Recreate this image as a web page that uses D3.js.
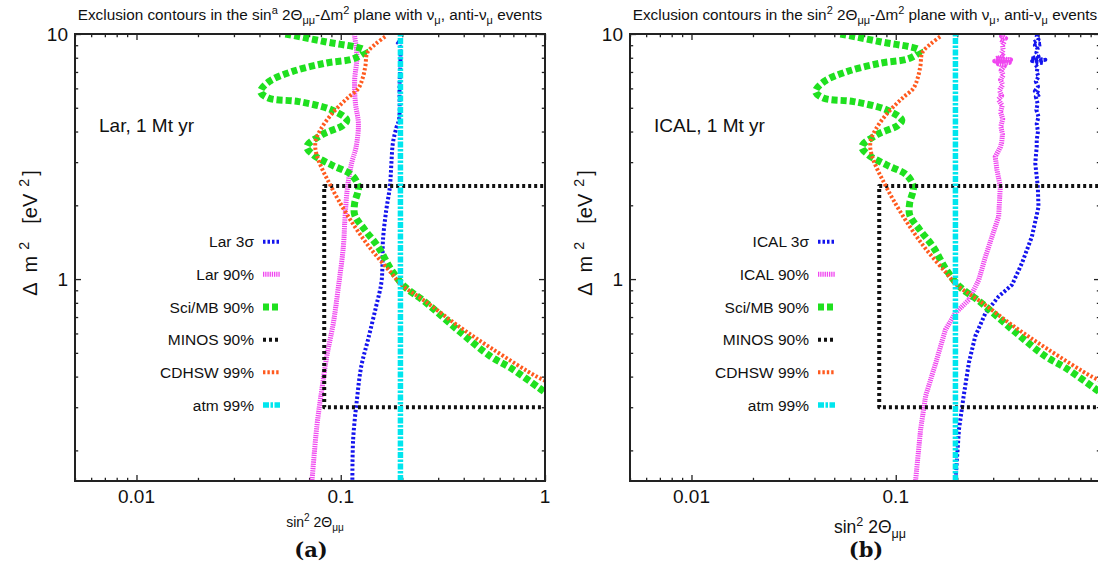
<!DOCTYPE html>
<html><head><meta charset="utf-8">
<script src="https://cdn.jsdelivr.net/npm/d3@7"></script>
<style>
html,body{margin:0;padding:0;background:#fff;overflow:hidden}
svg{display:block}
text{font-family:"Liberation Sans",Arial,Helvetica,sans-serif;fill:#111}
</style></head><body>
<svg id="chart" width="1098" height="569"></svg>
<script>
// ---------- data ----------
const xMajorTicks = [0.01, 0.1, 1];
const xTickLabels = ["0.01", "0.1", "1"];
const yMajorTicks = [1, 10];
const yTickLabels = ["1", "10"];
const xDomain = [0.005, 1];
const yDomain = [0.15, 10];

// shared contours [sin^2 2theta, dm^2]
const sciMB90 = [[0.0536,10],[0.0838,9.3],[0.131,8.55],[0.117,7.96],[0.0838,7.6],[0.0577,7.02],[0.0445,6.39],[0.0405,5.82],[0.0445,5.47],[0.0622,5.30],[0.0903,4.9],[0.107,4.46],[0.103,4.25],[0.0808,3.88],[0.0682,3.47],[0.0736,3.21],[0.0903,2.92],[0.113,2.66],[0.122,2.38],[0.117,2.04],[0.117,1.83],[0.131,1.59],[0.152,1.358],[0.177,1.09],[0.206,0.93],[0.257,0.811],[0.373,0.621],[0.543,0.483],[0.679,0.434],[0.933,0.36],[1.0,0.345]];
const minos90 = [[1.2,2.4],[0.083,2.4],[0.083,0.3],[1.2,0.3]];
const cdhsw99 = [[0.165,9.75],[0.148,9.1],[0.135,8.4],[0.132,7.4],[0.128,6.6],[0.122,6.0],[0.11,5.55],[0.101,5.2],[0.089,4.65],[0.08,4.1],[0.0757,3.72],[0.075,3.45],[0.0768,3.15],[0.0805,2.85],[0.086,2.55],[0.0974,2.10],[0.117,1.64],[0.1415,1.316],[0.177,1.058],[0.198,0.95],[0.26,0.81],[0.38,0.64],[0.55,0.52],[0.91,0.40],[1.0,0.385]];
const atm99 = [[0.196,0.15],[0.196,10]];

// Lar (panel a)
const lar3s = [[0.188,9.3],[0.194,9.0],[0.194,6.0],[0.193,4.5],[0.187,4.13],[0.180,3.59],[0.177,2.97],[0.174,2.38],[0.167,1.91],[0.161,1.447],[0.160,1.13],[0.158,0.963],[0.149,0.774],[0.136,0.566],[0.126,0.44],[0.120,0.322],[0.115,0.222],[0.114,0.15]];
const lar90 = [[0.1165,10],[0.120,8.08],[0.117,6.49],[0.118,5.22],[0.122,4.32],[0.119,3.47],[0.113,2.97],[0.108,2.38],[0.105,1.8],[0.103,1.358],[0.0974,0.93],[0.092,0.662],[0.0854,0.483],[0.0808,0.354],[0.0764,0.251],[0.0723,0.15]];

// ICAL (panel b)
const ical3s = [[0.496,10],[0.49,9.8],[0.5,9.5],[0.47,9.2],[0.52,9.1],[0.48,9.0],[0.495,8.7],[0.488,8.4],[0.50,8.1],[0.46,7.95],[0.54,7.85],[0.465,7.75],[0.53,7.65],[0.48,7.55],[0.495,7.3],[0.49,7.0],[0.5,6.7],[0.485,6.4],[0.497,6.1],[0.48,5.85],[0.51,5.7],[0.485,5.55],[0.495,5.2],[0.488,4.9],[0.5,4.6],[0.49,4.3],[0.497,4.0],[0.49,3.7],[0.49,3.47],[0.482,2.97],[0.496,2.38],[0.5,1.97],[0.464,1.49],[0.415,1.162],[0.371,0.948],[0.319,0.849],[0.275,0.727],[0.245,0.584],[0.228,0.455],[0.215,0.333],[0.204,0.244],[0.196,0.15]];
const ical90 = [[0.337,10],[0.33,9.8],[0.345,9.6],[0.325,9.5],[0.34,9.3],[0.333,9.0],[0.336,8.6],[0.328,8.3],[0.34,8.1],[0.31,7.95],[0.365,7.85],[0.305,7.75],[0.36,7.65],[0.318,7.55],[0.34,7.4],[0.328,7.1],[0.336,6.8],[0.326,6.5],[0.334,6.2],[0.322,5.9],[0.33,5.6],[0.318,5.4],[0.332,5.1],[0.326,4.8],[0.334,4.5],[0.327,4.2],[0.333,3.9],[0.33,3.6],[0.325,3.45],[0.307,3.16],[0.313,2.79],[0.325,2.38],[0.319,1.8],[0.296,1.49],[0.275,1.236],[0.255,0.993],[0.228,0.823],[0.196,0.727],[0.175,0.621],[0.157,0.455],[0.140,0.333],[0.1324,0.244],[0.125,0.15]];

const panelA = {left:75, tag:"(a)", note:"Lar, 1 Mt yr", sup:"a", xlabFont:14, xlabY:527, showLast:true,
  series:[{name:"Lar 3σ", data:lar3s, smooth:true},{name:"Lar 90%", data:lar90, smooth:true}]};
const panelB = {left:630, tag:"(b)", note:"ICAL, 1 Mt yr", sup:"2", xlabFont:17.5, xlabY:533, showLast:false,
  series:[{name:"ICAL 3σ", data:ical3s, smooth:false},{name:"ICAL 90%", data:ical90, smooth:false}]};

const styles = {
  blue:{stroke:"#1414ee", w:4, dash:"2.5 2"},
  mag:{stroke:"#f046f0", w:5, dash:"1.3 0.9"},
  green:{stroke:"#1fe01f", w:7, dash:"6 3"},
  black:{stroke:"#111111", w:4, dash:"3 3"},
  orange:{stroke:"#ff5a1e", w:4, dash:"2.4 2"},
  cyan:{stroke:"#00e6ee", w:5.5, dash:"6 1.5 2.5 1.5"}
};

const svg = d3.select("#chart");
svg.append("rect").attr("width",1098).attr("height",569).attr("fill","#fff");

function richText(g, x, y, size, parts, anchor, transform){
  const t = g.append("text").attr("x",x).attr("y",y).attr("font-size",size)
    .attr("text-anchor",anchor||"start");
  if(transform) t.attr("transform",transform);
  let shift = 0;
  parts.forEach(p=>{
    const sp = t.append("tspan").text(p.t);
    let target = 0;
    if(p.sup){ target = -0.42*size; sp.attr("font-size", size*0.72); }
    else if(p.sub){ target = 0.28*size; sp.attr("font-size", size*0.72); }
    sp.attr("dy", target-shift);
    if(p.dx) sp.attr("dx", p.dx);
    shift = target;
  });
  return t;
}

function drawPanel(P, idx){
  const x = d3.scaleLog().domain(xDomain).range([P.left, P.left+470]);
  const y = d3.scaleLog().domain(yDomain).range([481, 34]);
  const g = svg.append("g");
  const cid = "clip"+idx;
  g.append("clipPath").attr("id",cid).append("rect")
    .attr("x",P.left).attr("y",34).attr("width",470).attr("height",447);

  // title
  richText(g, P.left+235, 20, 15.3, [
    {t:"Exclusion contours in the sin"},{t:P.sup,sup:true},{t:" 2Θ"},{t:"μμ",sub:true},
    {t:"-Δm"},{t:"2",sup:true},{t:" plane with ν"},{t:"μ",sub:true},{t:", anti-ν"},{t:"μ",sub:true},{t:" events"}
  ], "middle");

  // ticks
  const minorX = [], minorY = [];
  [0.001,0.01,0.1].forEach(d=>{ for(let k=2;k<=9;k++){ const v=d*k; if(v>=xDomain[0]&&v<=xDomain[1]) minorX.push(v);} });
  [0.1,1].forEach(d=>{ for(let k=2;k<=9;k++){ const v=d*k; if(v>=yDomain[0]&&v<=yDomain[1]) minorY.push(v);} });

  const axG = g.append("g");
  const mk = (axis, tr)=>{ const a=axG.append("g").attr("transform",tr).call(axis); a.select(".domain").remove();
    a.selectAll("line").attr("stroke","#222").attr("stroke-width",1.3); a.selectAll("text").remove(); return a; };
  mk(d3.axisBottom(x).tickValues(xMajorTicks).tickSize(-6), "translate(0,481)");
  mk(d3.axisBottom(x).tickValues(minorX).tickSize(-3.2), "translate(0,481)");
  mk(d3.axisTop(x).tickValues(xMajorTicks).tickSize(-6), "translate(0,34)");
  mk(d3.axisTop(x).tickValues(minorX).tickSize(-3.2), "translate(0,34)");
  mk(d3.axisLeft(y).tickValues(yMajorTicks).tickSize(-6), `translate(${P.left},0)`);
  mk(d3.axisLeft(y).tickValues(minorY).tickSize(-3.2), `translate(${P.left},0)`);
  mk(d3.axisRight(y).tickValues(yMajorTicks).tickSize(-6), `translate(${P.left+470},0)`);
  mk(d3.axisRight(y).tickValues(minorY).tickSize(-3.2), `translate(${P.left+470},0)`);

  // tick labels
  xMajorTicks.forEach((v,i)=>{
    if(i===xMajorTicks.length-1 && !P.showLast) return;
    g.append("text").attr("x",x(v)).attr("y",503).attr("font-size",19).attr("text-anchor","middle").text(xTickLabels[i]);
  });
  yMajorTicks.forEach((v,i)=>{
    g.append("text").attr("x",P.left-7).attr("y",y(v)+7).attr("font-size",19).attr("text-anchor","end").text(yTickLabels[i]);
  });

  // axis labels
  richText(g, P.left+240, P.xlabY, P.xlabFont, [{t:"sin"},{t:"2",sup:true},{t:" 2Θ"},{t:"μμ",sub:true}], "middle");
  richText(g, 0, 0, 20, [{t:"Δ"},{t:"m",dx:10},{t:"2",sup:true,dx:6},{t:"[eV",dx:18},{t:"2",sup:true,dx:7},{t:"]",dx:3}], "middle",
    `translate(${P.left-38},233) rotate(-90)`);

  // note and tag
  g.append("text").attr("x",P.left+24).attr("y",132).attr("font-size",19).text(P.note);
  g.append("text").attr("x",P.left+236).attr("y",557).attr("font-size",21).attr("font-weight","bold")
    .attr("text-anchor","middle").style("font-family","'DejaVu Serif','Liberation Serif',serif").text(P.tag);

  // curves
  const cg = g.append("g").attr("clip-path",`url(#${cid})`);
  const lineS = d3.line().x(d=>x(d[0])).y(d=>y(d[1])).curve(d3.curveCatmullRom.alpha(0.5));
  const lineL = d3.line().x(d=>x(d[0])).y(d=>y(d[1]));
  const all = [
    {name:P.series[0].name, data:P.series[0].data, st:"blue", smooth:P.series[0].smooth},
    {name:P.series[1].name, data:P.series[1].data, st:"mag", smooth:P.series[1].smooth},
    {name:"Sci/MB 90%", data:sciMB90, st:"green", smooth:true},
    {name:"MINOS 90%", data:minos90, st:"black", smooth:false},
    {name:"CDHSW 99%", data:cdhsw99, st:"orange", smooth:true},
    {name:"atm 99%", data:atm99, st:"cyan", smooth:false}
  ];
  all.forEach(s=>{
    const st = styles[s.st];
    cg.append("path").attr("d",(s.smooth?lineS:lineL)(s.data)).attr("fill","none")
      .attr("stroke",st.stroke).attr("stroke-width",st.w).attr("stroke-dasharray",st.dash)
      .attr("stroke-linejoin","round");
  });

  // frame
  g.append("rect").attr("x",P.left).attr("y",34).attr("width",470).attr("height",447)
    .attr("fill","none").attr("stroke","#222").attr("stroke-width",2);

  // legend
  all.forEach((s,i)=>{
    const ly = 241.7 + i*32.66;
    g.append("text").attr("x",P.left+179).attr("y",ly+5.5).attr("font-size",15.5).attr("text-anchor","end").text(s.name);
    const st = styles[s.st];
    g.append("line").attr("x1",P.left+188).attr("x2",P.left+205).attr("y1",ly).attr("y2",ly)
      .attr("stroke",st.stroke).attr("stroke-width",st.w).attr("stroke-dasharray",st.dash);
  });
}
drawPanel(panelA,0);
drawPanel(panelB,1);
</script></body></html>
